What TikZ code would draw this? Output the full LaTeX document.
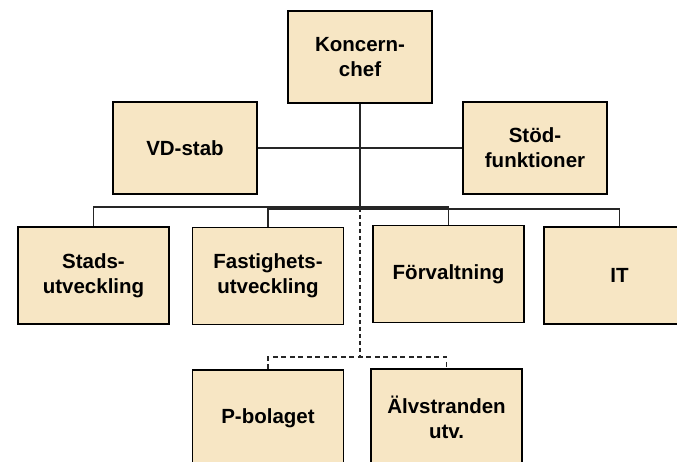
\documentclass[tikz,border=0pt]{standalone}
\usepackage{fontspec}
\setmainfont{Liberation Sans}
\definecolor{boxfill}{RGB}{247,230,196}
\tikzset{
  unit/.style={draw=black, line width=1.6pt, fill=boxfill, align=center, inner sep=2pt,
    font=\bfseries\fontsize{20.5}{25}\selectfont, minimum width=151pt, minimum height=97pt},
  topunit/.style={unit, minimum width=144pt, minimum height=92pt},
  link/.style={draw=black!85, line width=1.2pt},
  sublink/.style={link, dash pattern=on 5pt off 3.5pt},
}
\begin{document}
\begin{tikzpicture}[x=1pt,y=1pt]
    \useasboundingbox (0,0) rectangle (677,462);
    \clip (0,0) rectangle (677,462);
    \node[topunit] (chef) at (360,405) {Koncern-\\chef};
    \node[topunit] (vdstab) at (185,314) {VD-stab};
    \node[topunit] (stod) at (535,314) {Stöd-\\funktioner};
    \node[unit] (stads) at (93.5,186.5) {Stads-\\utveckling};
    \node[unit] (fast) at (268,186) {Fastighets-\\utveckling};
    \node[unit] (forv) at (448.5,188) {Förvaltning};
    \node[unit] (it) at (619.5,186.5) {IT};
    \node[unit] (pbol) at (268,43.5) {P-bolaget};
    \node[unit] (alv) at (446.5,44.5) {Älvstranden\\utv.};
    \coordinate (bus) at (360,254);
    \coordinate (sub) at (360,105);
    \draw[link] (vdstab.east) -- (stod.west);
    \draw[link, line width=2pt] (chef.south) -- (bus);
    \draw[link] (stads.north) |- ([yshift=1pt]bus) -| (forv.north);
    \draw[link] (fast.north) |- ([yshift=-1pt]bus) -| (it.north);
    \draw[sublink, line width=2pt, dash pattern=on 4pt off 3pt] (bus) -- (sub);
    \draw[sublink] (pbol.north) |- (sub) -| (alv.north);
\end{tikzpicture}
\end{document}
